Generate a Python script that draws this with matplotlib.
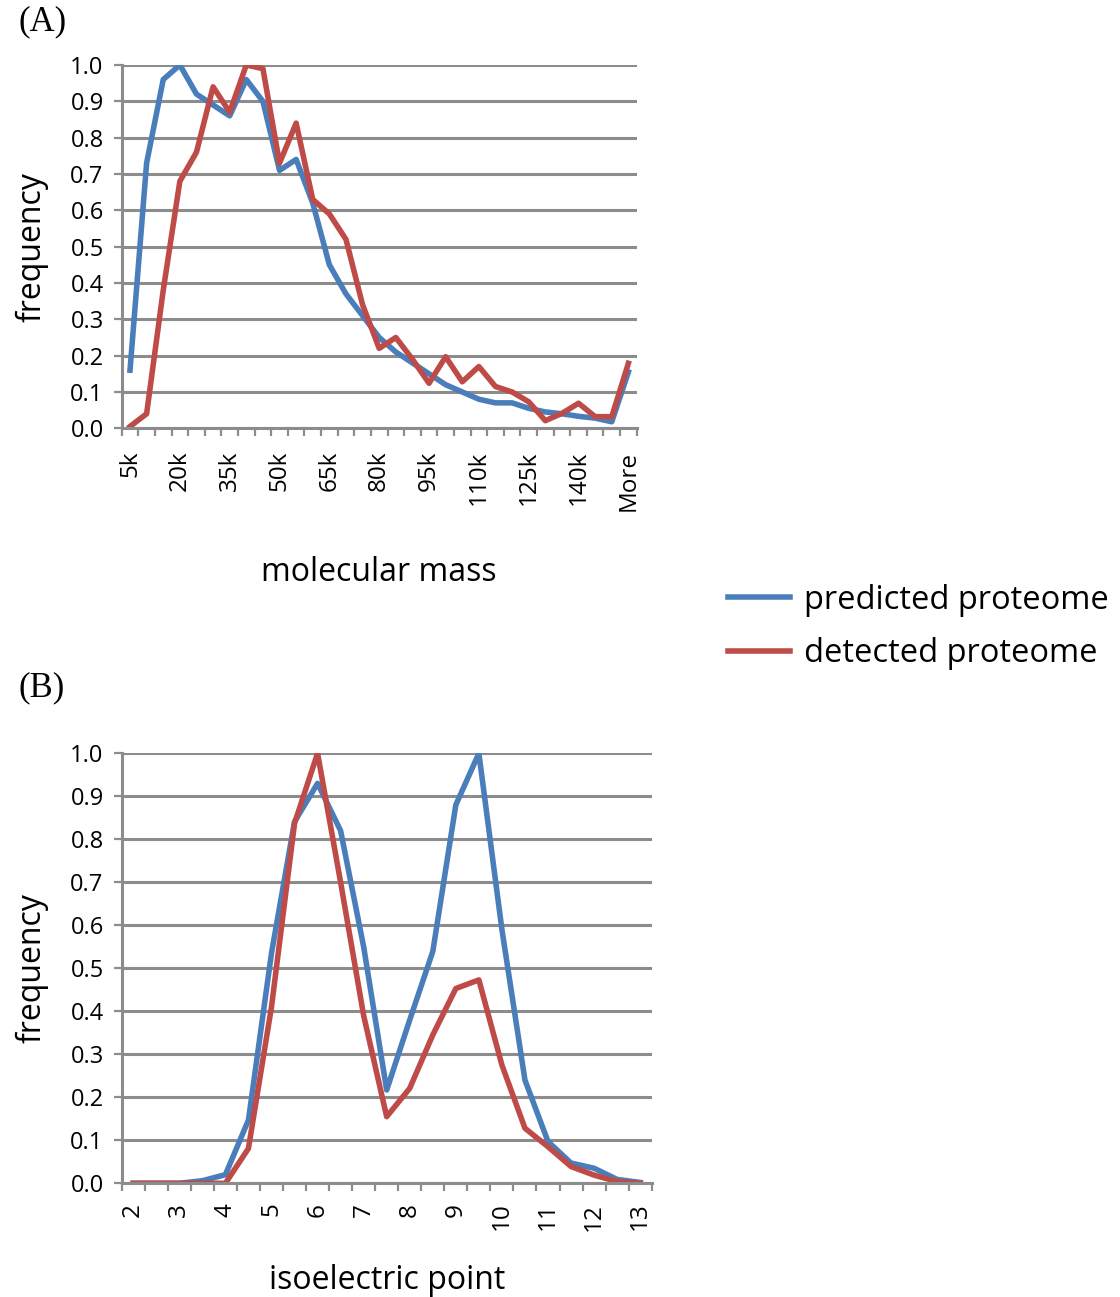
import matplotlib
matplotlib.use("Agg")
import matplotlib.pyplot as plt
import numpy as np

# panel A: molecular mass
mass_labels = [f"{k}k" for k in range(5, 155, 5)] + ["More"]
mass_predicted = [0.16, 0.73, 0.96, 1.00, 0.92, 0.89, 0.86, 0.96, 0.90, 0.71,
                  0.74, 0.62, 0.45, 0.37, 0.31, 0.25, 0.21, 0.18, 0.15, 0.12,
                  0.10, 0.08, 0.07, 0.07, 0.055, 0.045, 0.04, 0.033, 0.028, 0.018,
                  0.155]
mass_detected = [0.005, 0.04, 0.38, 0.68, 0.76, 0.94, 0.87, 1.00, 0.99, 0.73,
                 0.84, 0.63, 0.59, 0.52, 0.34, 0.22, 0.25, 0.19, 0.124, 0.197,
                 0.128, 0.17, 0.115, 0.10, 0.073, 0.021, 0.041, 0.069, 0.032, 0.032,
                 0.179]

# panel B: isoelectric point
pi_values = [2 + 0.5 * i for i in range(23)]
pi_predicted = [0.0, 0.0, 0.0, 0.006, 0.02, 0.147, 0.535, 0.841, 0.93, 0.82,
                0.55, 0.217, 0.38, 0.539, 0.88, 1.00, 0.59, 0.24, 0.097, 0.047,
                0.035, 0.009, 0.002]
pi_detected = [0.0, 0.0, 0.0, 0.0, 0.0, 0.081, 0.41, 0.837, 1.00, 0.70,
               0.39, 0.155, 0.221, 0.345, 0.453, 0.473, 0.275, 0.128, 0.085, 0.039,
               0.019, 0.004, 0.0]

BLUE = "#4a7ebb"
RED = "#be4b48"
GRID = "#8c8c8c"
FONT = "Open Sans"
LW = 4.0

W, H = 1120, 1297
fig = plt.figure(figsize=(W / 100, H / 100), dpi=100)


def box(l, t, r, b):
    return [l / W, 1 - b / H, (r - l) / W, (b - t) / H]


def style(ax, n, label_idx, labels):
    ax.set_xlim(-0.5, n - 0.5)
    ax.set_ylim(0, 1.0)
    yt = np.arange(0, 1.01, 0.1)
    ax.set_yticks(yt)
    ax.set_yticklabels([f"{v:.1f}" for v in yt], fontsize=17, family=FONT)
    ax.yaxis.grid(True, color=GRID, lw=2.2)
    ax.set_axisbelow(True)
    ax.set_xticks(label_idx)
    ax.set_xticklabels(labels, rotation=90, fontsize=17.5, family=FONT)
    ax.set_xticks(np.arange(-0.5, n, 1), minor=True)
    ax.tick_params(axis="x", which="major", length=0, pad=16)
    ax.tick_params(axis="x", which="minor", length=6, width=1.6, color=GRID)
    ax.tick_params(axis="y", length=6, width=1.6, color=GRID, pad=7)
    for s in ["top", "right"]:
        ax.spines[s].set_visible(False)
    for s in ["left", "bottom"]:
        ax.spines[s].set_color(GRID)
        ax.spines[s].set_linewidth(2.2)
    ax.set_ylabel("frequency", fontsize=23, family=FONT, labelpad=16)


axA = fig.add_axes(box(121.7, 65, 636.7, 428.3))
xa = np.arange(len(mass_labels))
la, = axA.plot(xa, mass_predicted, color=BLUE, lw=LW, label="predicted proteome")
lb, = axA.plot(xa, mass_detected, color=RED, lw=LW, label="detected proteome")
idx_a = list(range(0, len(mass_labels), 3))
style(axA, len(mass_labels), idx_a, [mass_labels[i] for i in idx_a])
axA.set_xlabel("molecular mass", fontsize=23, family=FONT, labelpad=33)

axB = fig.add_axes(box(121.7, 753.3, 651.7, 1183.3))
xb = np.arange(len(pi_values))
axB.plot(xb, pi_predicted, color=BLUE, lw=LW)
axB.plot(xb, pi_detected, color=RED, lw=LW)
idx_b = list(range(0, len(pi_values), 2))
style(axB, len(pi_values), idx_b, [f"{pi_values[i]:g}" for i in idx_b])
axB.tick_params(axis="x", which="major", pad=14)
axB.set_xlabel("isoelectric point", fontsize=23, family=FONT, labelpad=24)

fig.text(18 / W, 1 - 22 / H, "(A)", fontsize=25, family="Liberation Serif", va="center")
fig.text(18 / W, 1 - 688 / H, "(B)", fontsize=25, family="Liberation Serif", va="center")

fig.legend(handles=[la, lb], loc="center left", bbox_to_anchor=(728 / W, 1 - 627 / H),
           frameon=False, prop={"family": FONT, "size": 23.5},
           handlelength=1.9, handletextpad=0.42, labelspacing=0.62, borderaxespad=0,
           borderpad=0)

fig.savefig("out.png", dpi=100)
